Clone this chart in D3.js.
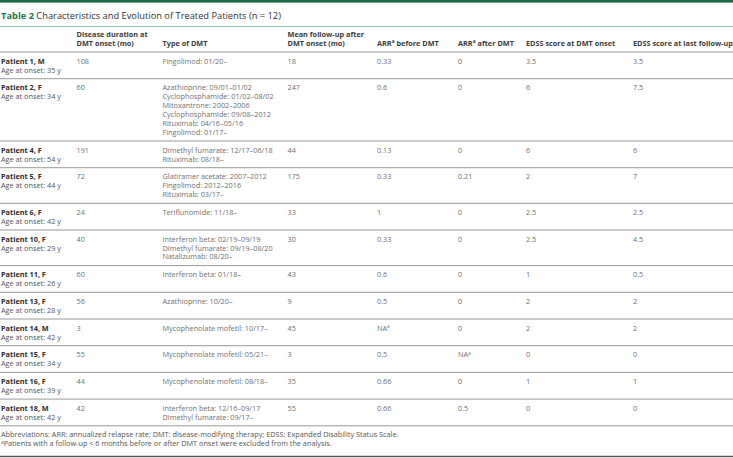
<!DOCTYPE html>
<html lang="en">
<head>
<meta charset="UTF-8">
<title>Table 2</title>
<style>
  body { margin: 0; background: #fff; }
  svg text { font-family: "Open Sans", sans-serif; }
</style>
<script src="https://d3js.org/d3.v7.min.js"></script>
</head>
<body>
<svg width="733" height="458"></svg>
<script>
// table content
const columns = ["patient", "duration", "dmt", "followUp", "arrBefore", "arrAfter", "edssOnset", "edssLast"];
const headers = [
    [""],
    ["Disease duration at", "DMT onset (mo)"],
    ["Type of DMT"],
    ["Mean follow-up after", "DMT onset (mo)"],
    ["ARR^a before DMT"],
    ["ARR^a after DMT"],
    ["EDSS score at DMT onset"],
    ["EDSS score at last follow-up"]
];
const patients = ["Patient 1, M", "Patient 2, F", "Patient 4, F", "Patient 5, F", "Patient 6, F", "Patient 10, F",
    "Patient 11, F", "Patient 13, F", "Patient 14, M", "Patient 15, F", "Patient 16, F", "Patient 18, M"];
const ages = [35, 34, 54, 44, 42, 29, 26, 28, 42, 34, 39, 42];
const duration = ["108", "60", "191", "72", "24", "40", "60", "56", "3", "55", "44", "42"];
const dmtTypes = [
    ["Fingolimod: 01/20–"],
    ["Azathioprine: 09/01–01/02", "Cyclophosphamide: 01/02–08/02", "Mitoxantrone: 2002–2006",
     "Cyclophosphamide: 09/08–2012", "Rituximab: 04/16–05/16", "Fingolimod: 01/17–"],
    ["Dimethyl fumarate: 12/17–06/18", "Rituximab: 08/18–"],
    ["Glatiramer acetate: 2007–2012", "Fingolimod: 2012–2016", "Rituximab: 03/17–"],
    ["Teriflunomide: 11/18–"],
    ["Interferon beta: 02/19–09/19", "Dimethyl fumarate: 09/19–08/20", "Natalizumab: 08/20–"],
    ["Interferon beta: 01/18–"],
    ["Azathioprine: 10/20–"],
    ["Mycophenolate mofetil: 10/17–"],
    ["Mycophenolate mofetil: 05/21–"],
    ["Mycophenolate mofetil: 08/18–"],
    ["Interferon beta: 12/16–09/17", "Dimethyl fumarate: 09/17–"]
];
const followUp = ["18", "247", "44", "175", "33", "30", "43", "9", "45", "3", "35", "55"];
const arrBefore = ["0.33", "0.6", "0.13", "0.33", "1", "0.33", "0.6", "0.5", "NA^a", "0.5", "0.66", "0.66"];
const arrAfter = ["0", "0", "0", "0.21", "0", "0", "0", "0", "0", "NA^a", "0", "0.5"];
const edssOnset = ["3.5", "6", "6", "2", "2.5", "2.5", "1", "2", "2", "0", "1", "0"];
const edssLast = ["3.5", "7.5", "6", "7", "2.5", "4.5", "0.5", "2", "2", "0", "1", "0"];
const footnotes = [
    "Abbreviations: ARR: annualized relapse rate; DMT: disease-modifying therapy; EDSS: Expanded Disability Status Scale.",
    "^aPatients with a follow-up < 6 months before or after DMT onset were excluded from the analysis."
];

const W = 733;
const lineH = 8.9;
const fs = 7.3;

const svg = d3.select("svg");

const x = d3.scaleOrdinal()
    .domain(columns)
    .range([1, 76.5, 162.5, 287.5, 377, 458, 526, 633]);

// write a string, turning "^a" into a superscript
function rich(sel, str) {
    const parts = str.split("^");
    sel.append("tspan").text(parts[0]);
    if (parts.length > 1) {
        const rest = parts[1];
        sel.append("tspan").attr("font-size", 4.8).attr("dy", -2.7).text(rest[0]);
        if (rest.length > 1) sel.append("tspan").attr("dy", 2.7).text(rest.slice(1));
    }
}

// top bar + title
svg.append("rect").attr("x", 0).attr("y", 0).attr("width", W).attr("height", 2.6).attr("fill", "#1d6b46");
const title = svg.append("text").attr("x", 1).attr("y", 18.5).attr("font-size", 9.3);
title.append("tspan").attr("font-weight", 700).attr("fill", "#1f7a4c").text("Table 2");
title.append("tspan").attr("fill", "#333").text(" Characteristics and Evolution of Treated Patients (n = 12)");
svg.append("line").attr("x1", 0).attr("x2", W).attr("y1", 26.5).attr("y2", 26.5)
    .attr("stroke", "#93c0a6").attr("stroke-width", 1);

// header
const headerBottom = 52;
columns.forEach((c, i) => {
    const lines = headers[i];
    lines.forEach((l, j) => {
        const cy = headerBottom - 9 - (lines.length - 1 - j) * lineH;
        const t = svg.append("text").attr("x", x(c)).attr("y", cy + 2.6)
            .attr("font-size", fs).attr("font-weight", 700).attr("fill", "#3c3c3c");
        rich(t, l);
    });
});
svg.append("line").attr("x1", 0).attr("x2", W).attr("y1", headerBottom).attr("y2", headerBottom)
    .attr("stroke", "#9a9a9a").attr("stroke-width", 1);

// rows
const rows = patients.map((p, i) => ({
    cells: [
        null,
        [duration[i]],
        dmtTypes[i],
        [followUp[i]],
        [arrBefore[i]],
        [arrAfter[i]],
        [edssOnset[i]],
        [edssLast[i]]
    ],
    patient: p,
    age: "Age at onset: " + ages[i] + " y",
    n: Math.max(2, dmtTypes[i].length)
}));

let y0 = headerBottom;
rows.forEach(r => {
    r.top = y0;
    y0 += (r.n - 1) * lineH + 17.8;
    r.bottom = y0;
});

const g = svg.selectAll("g.row").data(rows).join("g").attr("class", "row");

g.append("text")
    .attr("x", x("patient")).attr("y", d => d.top + 9 + 2.6)
    .attr("font-size", fs).attr("font-weight", 700).attr("fill", "#2e2e2e")
    .text(d => d.patient);
g.append("text")
    .attr("x", x("patient")).attr("y", d => d.top + 9 + lineH + 2.6)
    .attr("font-size", fs).attr("fill", "#555")
    .text(d => d.age);

g.each(function(d) {
    const row = d3.select(this);
    columns.forEach((c, ci) => {
        if (!d.cells[ci]) return;
        d.cells[ci].forEach((v, li) => {
            const t = row.append("text").attr("x", x(c)).attr("y", d.top + 9 + li * lineH + 2.6)
                .attr("font-size", fs).attr("fill", "#707070");
            rich(t, v);
        });
    });
});

g.append("line")
    .attr("x1", 0).attr("x2", W)
    .attr("y1", d => d.bottom).attr("y2", d => d.bottom)
    .attr("stroke", "#9a9a9a").attr("stroke-width", 1);

// footnotes
footnotes.forEach((f, i) => {
    const t = svg.append("text").attr("x", 1).attr("y", y0 + 9 + i * lineH + 2.6)
        .attr("font-size", fs).attr("fill", "#555");
    rich(t, f);
});
svg.append("line").attr("x1", 0).attr("x2", W).attr("y1", 456.5).attr("y2", 456.5)
    .attr("stroke", "#555").attr("stroke-width", 1.3);
</script>
</body>
</html>
